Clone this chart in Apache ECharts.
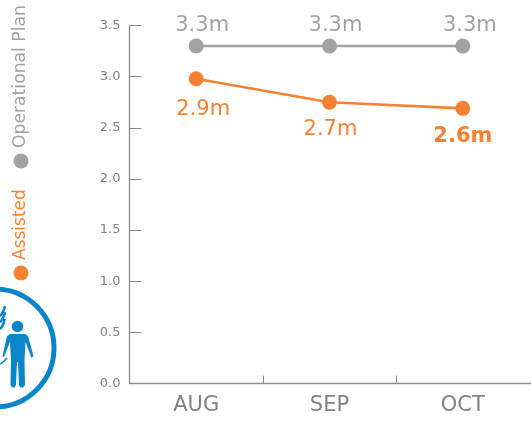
<!DOCTYPE html>
<html lang="en">
<head>
    <meta charset="UTF-8">
    <title>Assisted vs Operational Plan</title>
    <style>
        html, body { margin: 0; padding: 0; background: #fff; }
        #main { width: 531px; height: 422px; }
    </style>
</head>
<body>
<div id="main"></div>
<script src="https://cdn.jsdelivr.net/npm/echarts@6/dist/echarts.min.js"></script>
<script>
    const months = ['AUG', 'SEP', 'OCT'];
    const planValues = [3.3, 3.3, 3.3];
    const assistedValues = [2.98, 2.75, 2.69];
    const planLabels = ['3.3m', '3.3m', '3.3m'];
    const assistedLabels = ['2.9m', '2.7m', '2.6m'];

    const GREY = '#a1a2a5';
    const ORANGE = '#f58233';
    const BLUE = '#0a85c7';
    const FONT = '"DejaVu Sans", Verdana, sans-serif';

    let myChart = echarts.init(document.getElementById('main'));

    // offsets move each label to where it sits in the picture
    const planOffsets = [[6, 1.5], [6, 1.5], [7, 1.5]];
    const assistedOffsets = [[7, 5], [1, 1], [0, 2]];

    // one leaf of the emblem's wreath
    function leaf(x1, y1, cx, cy, x2, y2, w) {
        return {
            type: 'bezierCurve',
            shape: { x1: x1, y1: y1, cpx1: cx, cpy1: cy, x2: x2, y2: y2 },
            style: { fill: 'none', stroke: BLUE, lineWidth: w }
        };
    }

    let option = {
        animation: false,
        backgroundColor: '#fff',
        grid: { left: 129.5, top: 25.5, width: 400, height: 358 },
        xAxis: {
            type: 'category',
            data: months,
            axisLine: { lineStyle: { color: '#8c8c8c', width: 1.3 } },
            axisTick: { show: true, inside: true, length: 8, lineStyle: { color: '#8c8c8c' } },
            axisLabel: { color: '#808285', fontSize: 21, fontFamily: FONT, margin: 12 }
        },
        yAxis: {
            type: 'value',
            min: 0,
            max: 3.5,
            interval: 0.5,
            splitLine: { show: false },
            axisLine: { show: true, lineStyle: { color: '#8c8c8c', width: 1.3 } },
            axisTick: { show: true, inside: true, length: 12, lineStyle: { color: '#8c8c8c' } },
            axisLabel: {
                color: '#808285', fontSize: 13, fontFamily: FONT, margin: 9,
                formatter: v => v.toFixed(1)
            }
        },
        series: [
            {
                name: 'Operational Plan',
                type: 'line',
                data: planValues.map((v, i) => ({
                    value: v,
                    label: { formatter: planLabels[i], offset: planOffsets[i] }
                })),
                symbol: 'circle',
                symbolSize: 15,
                itemStyle: { color: GREY },
                lineStyle: { color: GREY, width: 2.6 },
                label: {
                    show: true, position: 'top', distance: 4,
                    color: GREY, fontSize: 21, fontFamily: FONT
                }
            },
            {
                name: 'Assisted',
                type: 'line',
                data: assistedValues.map((v, i) => ({
                    value: v,
                    label: {
                        formatter: assistedLabels[i],
                        offset: assistedOffsets[i],
                        fontWeight: i === 2 ? 'bold' : 'normal'
                    }
                })),
                symbol: 'circle',
                symbolSize: 15,
                itemStyle: { color: ORANGE },
                lineStyle: { color: ORANGE, width: 2.6 },
                label: {
                    show: true, position: 'bottom', distance: 8,
                    color: ORANGE, fontSize: 21, fontFamily: FONT
                }
            }
        ],
        graphic: [
            // hide the end tick, the axis line runs on to the page edge
            { type: 'line', z: 10, shape: { x1: 529.5, y1: 374, x2: 529.5, y2: 382.5 }, style: { stroke: '#fff', lineWidth: 2 } },
            { type: 'line', shape: { x1: 529, y1: 383.5, x2: 531, y2: 383.5 }, style: { stroke: '#8c8c8c', lineWidth: 1.3 } },
            // legend, turned on its side
            { type: 'circle', shape: { cx: 21, cy: 273, r: 7.5 }, style: { fill: ORANGE } },
            {
                type: 'text', x: 20.5, y: 260, rotation: Math.PI / 2,
                style: { text: 'Assisted', fill: ORANGE, font: '17px ' + FONT, align: 'left', verticalAlign: 'middle' }
            },
            { type: 'circle', shape: { cx: 21, cy: 161, r: 7.5 }, style: { fill: GREY } },
            {
                type: 'text', x: 20.5, y: 148, rotation: Math.PI / 2,
                style: { text: 'Operational Plan', fill: GREY, font: '17.2px ' + FONT, align: 'left', verticalAlign: 'middle' }
            },
            // emblem in the corner
            { type: 'circle', shape: { cx: -5, cy: 348, r: 59 }, style: { fill: 'none', stroke: BLUE, lineWidth: 5 } },
            { type: 'circle', shape: { cx: 17.5, cy: 326.5, r: 5.8 }, style: { fill: BLUE } },
            {
                type: 'polygon',
                shape: {
                    points: [[10, 334], [25, 334], [28, 336], [33.5, 356], [31.5, 358], [25.5, 342], [24.5, 360], [25, 385], [23, 387.5], [20.5, 387.5], [19, 385],
                        [18, 362], [17, 362], [16, 385], [14.5, 387.5], [12, 387.5], [10.5, 385], [11, 360], [10, 342], [4, 357], [2.5, 356], [7, 336]]
                },
                style: { fill: BLUE }
            },
            leaf(0, 316, 4, 312, 5, 306, 2.5),
            leaf(0, 322, 4, 318, 5, 312, 2.5),
            leaf(0, 329, 4, 325, 4.5, 319, 2.5),
            leaf(0, 364, 4, 362, 7, 358, 1.5)
        ]
    };

    myChart.setOption(option);
</script>
</body>
</html>
